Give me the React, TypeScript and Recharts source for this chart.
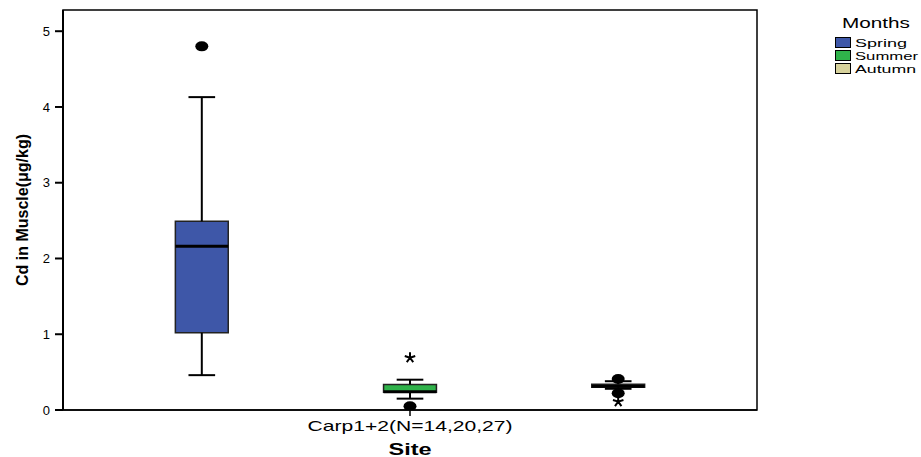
import {ComposedChart, ReferenceArea, ReferenceLine, Scatter, XAxis, YAxis} from "recharts";

const months = ['Spring', 'Summer', 'Autumn'];
const monthColors = ['#3e57a8', '#2fb24a', '#d7d29c'];
const siteLabel = 'Carp1+2(N=14,20,27)';

// box statistics per month (Cd, µg/kg)
const whiskerLow = [0.46, 0.15, 0.28];
const q1 = [1.02, 0.235, 0.30];
const median = [2.16, 0.24, 0.315];
const q3 = [2.49, 0.335, 0.34];
const whiskerHigh = [4.13, 0.40, 0.38];

// outliers (circles) and extremes (stars), month index + value
const outliers = [
    {x: 0, y: 4.80},
    {x: 1, y: 0.05},
    {x: 2, y: 0.41},
    {x: 2, y: 0.22},
];
const extremes = [
    {x: 1, y: 0.69},
    {x: 2, y: 0.11},
];

const yTicks = [0, 1, 2, 3, 4, 5];

const BOX_HALF = 0.127;
const CAP_HALF = 0.064;
const FONT = '"Liberation Sans", Arial, sans-serif';
const legendWidths = [52, 63, 61];

const Circle = (props: any) => {
    const {cx, cy} = props;
    return <ellipse cx={cx} cy={cy} rx={6.5} ry={5} fill="#000"/>;
};

const Star = (props: any) => {
    const {cx, cy} = props;
    const arms = [-90, -18, 54, 126, 198].map(a => {
        const r = (a * Math.PI) / 180;
        return `M${cx},${cy} L${cx + 5.5 * Math.cos(r)},${cy + 5.5 * Math.sin(r)}`;
    });
    return <path d={arms.join(' ')} stroke="#000" strokeWidth={2} fill="none"/>;
};

// legend drawn as its own little svg, outside the plot
const LegendBox = () => (
    <svg width={90} height={80} style={{position: 'absolute', left: 831, top: 10}}
         fontFamily={FONT} fill="#000">
        <text x={11} y={18} fontSize={14} textLength={68} lengthAdjust="spacingAndGlyphs">Months</text>
        {months.map((m, i) => (
            <g key={m}>
                <rect x={4.5} y={27.5 + i * 13} width={15} height={10} fill={monthColors[i]} stroke="#000"/>
                <text x={24} y={36.5 + i * 13} fontSize={11} textLength={legendWidths[i]}
                      lengthAdjust="spacingAndGlyphs">{m}</text>
            </g>
        ))}
    </svg>
);

const SiteTick = (props: any) => {
    const {x, y} = props;
    return (
        <text x={x} y={y + 13} textAnchor="middle" fontFamily={FONT} fontSize={15} fill="#000"
              textLength={205} lengthAdjust="spacingAndGlyphs">
            {siteLabel}
        </text>
    );
};

const YLabel = (props: any) => {
    const {viewBox} = props;
    const x = viewBox.x + 22;
    const y = viewBox.y + viewBox.height / 2;
    return (
        <text x={x} y={y} transform={`rotate(-90 ${x} ${y})`} textAnchor="middle" dominantBaseline="central"
              fontFamily='"Liberation Sans Narrow", "Arial Narrow", "Liberation Sans", sans-serif'
              fontWeight="bold" fontSize={17} fill="#000" textLength={152} lengthAdjust="spacingAndGlyphs">
            Cd in Muscle(μg/kg)
        </text>
    );
};

const XLabel = (props: any) => {
    const {viewBox} = props;
    return (
        <text x={viewBox.x + viewBox.width / 2} y={455} textAnchor="middle" fontFamily={FONT}
              fontWeight="bold" fontSize={16} fill="#000" textLength={43} lengthAdjust="spacingAndGlyphs">
            Site
        </text>
    );
};

export default function App() {
    const mid = (months.length - 1) / 2;
    return (
        <div style={{position: 'absolute', left: 0, top: 0, width: 921, height: 457}}>
            <ComposedChart width={921} height={457} margin={{top: 10, right: 164, bottom: 0, left: 0}}>
                <XAxis type="number" dataKey="x" domain={[-2 / 3, 8 / 3]} ticks={[mid]} allowDataOverflow
                       stroke="#000" strokeWidth={1.5} tickSize={6} tick={<SiteTick/>} height={47}
                       label={<XLabel/>}/>
                <YAxis type="number" dataKey="y" domain={[0, 5.28]} ticks={yTicks} allowDataOverflow
                       stroke="#000" strokeWidth={2} tickSize={8} tickMargin={5} width={63}
                       tick={{fill: '#000', fontSize: 13, fontFamily: FONT}}
                       label={<YLabel/>}/>
                <ReferenceArea x1={-2 / 3} x2={8 / 3} y1={0} y2={5.28} fill="none" stroke="#000"
                               strokeWidth={1.5} ifOverflow="visible"/>
                {months.map((m, i) => (
                    <ReferenceLine key={`wl-${m}`} segment={[{x: i, y: whiskerLow[i]}, {x: i, y: q1[i]}]}
                                   stroke="#000" strokeWidth={2}/>
                ))}
                {months.map((m, i) => (
                    <ReferenceLine key={`wh-${m}`} segment={[{x: i, y: q3[i]}, {x: i, y: whiskerHigh[i]}]}
                                   stroke="#000" strokeWidth={2}/>
                ))}
                {months.map((m, i) => (
                    <ReferenceLine key={`cl-${m}`}
                                   segment={[{x: i - CAP_HALF, y: whiskerLow[i]}, {x: i + CAP_HALF, y: whiskerLow[i]}]}
                                   stroke="#000" strokeWidth={2}/>
                ))}
                {months.map((m, i) => (
                    <ReferenceLine key={`ch-${m}`}
                                   segment={[{x: i - CAP_HALF, y: whiskerHigh[i]}, {x: i + CAP_HALF, y: whiskerHigh[i]}]}
                                   stroke="#000" strokeWidth={2}/>
                ))}
                {months.map((m, i) => (
                    <ReferenceArea key={`box-${m}`} x1={i - BOX_HALF} x2={i + BOX_HALF} y1={q1[i]} y2={q3[i]}
                                   fill={monthColors[i]} fillOpacity={1} stroke="#222" strokeWidth={1.5}/>
                ))}
                {months.map((m, i) => (
                    <ReferenceLine key={`med-${m}`}
                                   segment={[{x: i - BOX_HALF, y: median[i]}, {x: i + BOX_HALF, y: median[i]}]}
                                   stroke="#000" strokeWidth={3}/>
                ))}
                <Scatter data={outliers} shape={<Circle/>} isAnimationActive={false}/>
                <Scatter data={extremes} shape={<Star/>} isAnimationActive={false}/>
            </ComposedChart>
            <LegendBox/>
        </div>
    );
}
